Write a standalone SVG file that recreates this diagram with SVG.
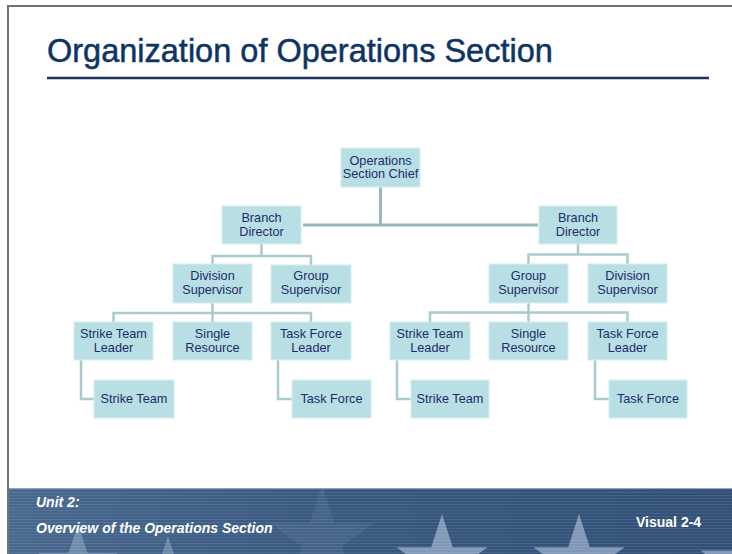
<svg xmlns="http://www.w3.org/2000/svg" xmlns:xlink="http://www.w3.org/1999/xlink" width="732" height="554" viewBox="0 0 732 554">
<style>
.box{fill:#b8dfe3;stroke:#d4eef0;stroke-width:1}
.lbl{font-family:"Liberation Sans",Arial,sans-serif;font-size:12.7px;fill:#1e2a6e;text-anchor:middle}
.main{fill:none;stroke:#97b8bc;stroke-width:3}
.br{fill:none;stroke:#a9cbce;stroke-width:2.5}
.ft{font-family:"Liberation Sans",Arial,sans-serif;font-size:14px;font-weight:bold;fill:#ffffff}
</style>
<defs>
<linearGradient id="fg" x1="0" y1="0" x2="1" y2="0">
<stop offset="0" stop-color="#48688f"/>
<stop offset="0.45" stop-color="#38587f"/>
<stop offset="1" stop-color="#314f77"/>
</linearGradient>
<pattern id="stripes" width="4" height="3" patternUnits="userSpaceOnUse">
<rect width="4" height="1" fill="#ffffff" fill-opacity="0.09"/>
</pattern>
<polygon id="star" points="0,-1 0.2245,-0.309 0.9511,-0.309 0.3633,0.118 0.5878,0.809 0,0.382 -0.5878,0.809 -0.3633,0.118 -0.9511,-0.309 -0.2245,-0.309"/>
<clipPath id="fclip"><rect x="9" y="488" width="723" height="66"/></clipPath>
</defs>
<rect width="732" height="554" fill="#ffffff"/>
<g id="frame">
<line x1="8" y1="6" x2="732" y2="6" stroke="#727272" stroke-width="2"/>
<line x1="8" y1="5" x2="8" y2="554" stroke="#727272" stroke-width="2"/>
</g>
<g id="title">
<text x="47" y="62" font-family="'Liberation Sans',Arial,sans-serif" font-size="32.5" fill="#0e3466" stroke="#0e3466" stroke-width="0.5">Organization of Operations Section</text>
<line x1="47" y1="78" x2="709" y2="78" stroke="#1b3563" stroke-width="2.5"/>
</g>
<g id="footer">
<rect x="9" y="488" width="723" height="66" fill="url(#fg)"/>
<g clip-path="url(#fclip)" fill="#b4c6dc">
<use xlink:href="#star" transform="translate(322,540) scale(55)" fill-opacity="0.1"/>
<use xlink:href="#star" transform="translate(78,566) scale(42)" fill-opacity="0.4"/>
<use xlink:href="#star" transform="translate(168,580) scale(44)" fill-opacity="0.4"/>
<use xlink:href="#star" transform="translate(442,562) scale(48)" fill-opacity="0.6"/>
<use xlink:href="#star" transform="translate(579,562) scale(48)" fill-opacity="0.6"/>
<use xlink:href="#star" transform="translate(748,566) scale(50)" fill-opacity="0.6"/>
</g>
<rect x="9" y="488" width="723" height="66" fill="url(#stripes)"/>
<line x1="9" y1="488.5" x2="732" y2="488.5" stroke="#8ea3bd" stroke-width="1"/>
<text class="ft" x="36" y="507" font-style="italic">Unit 2:</text>
<text class="ft" x="36" y="533" font-style="italic">Overview of the Operations Section</text>
<text class="ft" x="636" y="527">Visual 2-4</text>
</g>
<g id="connectors">
<path class="main" d="M380.5 187V225M303 225H538"/>
<path class="br" d="M261.5 244V256M212.5 264V256H311V265"/>
<path class="br" d="M578 244V254.5M528.5 264V254.5H627.5V264"/>
<path class="br" d="M212.5 303V322M113.5 322V313H311V322"/>
<path class="br" d="M528.5 303V322M430 322V312.5H627.5V322"/>
<path class="br" d="M81 360V399H94"/>
<path class="br" d="M278 360V399H292"/>
<path class="br" d="M397 360V399H411"/>
<path class="br" d="M595 360V399H609"/>
</g>
<g id="chief"><rect class="box" x="341" y="148" width="79" height="39"/><text class="lbl" x="380.5" y="165">Operations</text><text class="lbl" x="380.5" y="178">Section Chief</text></g>
<g id="branchL"><rect class="box" x="222" y="206" width="79" height="38"/><text class="lbl" x="261.5" y="222">Branch</text><text class="lbl" x="261.5" y="236">Director</text></g>
<g id="divL"><rect class="box" x="173" y="264" width="79" height="39"/><text class="lbl" x="212.5" y="280">Division</text><text class="lbl" x="212.5" y="294">Supervisor</text></g>
<g id="grpL"><rect class="box" x="271" y="265" width="80" height="38"/><text class="lbl" x="311" y="280">Group</text><text class="lbl" x="311" y="294">Supervisor</text></g>
<g id="stlL"><rect class="box" x="74" y="322" width="79" height="38"/><text class="lbl" x="113.5" y="338">Strike Team</text><text class="lbl" x="113.5" y="352">Leader</text></g>
<g id="srL"><rect class="box" x="173" y="322" width="79" height="38"/><text class="lbl" x="212.5" y="338">Single</text><text class="lbl" x="212.5" y="352">Resource</text></g>
<g id="tflL"><rect class="box" x="271" y="322" width="80" height="38"/><text class="lbl" x="311" y="338">Task Force</text><text class="lbl" x="311" y="352">Leader</text></g>
<g id="stL"><rect class="box" x="94" y="380" width="80" height="38"/><text class="lbl" x="134" y="403">Strike Team</text></g>
<g id="tfL"><rect class="box" x="292" y="380" width="79" height="38"/><text class="lbl" x="331.5" y="403">Task Force</text></g>
<g id="branchR"><rect class="box" x="539" y="206" width="78" height="38"/><text class="lbl" x="578" y="222">Branch</text><text class="lbl" x="578" y="236">Director</text></g>
<g id="grpR"><rect class="box" x="489" y="264" width="79" height="39"/><text class="lbl" x="528.5" y="280">Group</text><text class="lbl" x="528.5" y="294">Supervisor</text></g>
<g id="divR"><rect class="box" x="588" y="264" width="79" height="39"/><text class="lbl" x="627.5" y="280">Division</text><text class="lbl" x="627.5" y="294">Supervisor</text></g>
<g id="stlR"><rect class="box" x="390" y="322" width="80" height="38"/><text class="lbl" x="430" y="338">Strike Team</text><text class="lbl" x="430" y="352">Leader</text></g>
<g id="srR"><rect class="box" x="489" y="322" width="79" height="38"/><text class="lbl" x="528.5" y="338">Single</text><text class="lbl" x="528.5" y="352">Resource</text></g>
<g id="tflR"><rect class="box" x="588" y="322" width="79" height="38"/><text class="lbl" x="627.5" y="338">Task Force</text><text class="lbl" x="627.5" y="352">Leader</text></g>
<g id="stR"><rect class="box" x="411" y="380" width="78" height="38"/><text class="lbl" x="450" y="403">Strike Team</text></g>
<g id="tfR"><rect class="box" x="609" y="380" width="78" height="38"/><text class="lbl" x="648" y="403">Task Force</text></g>
</svg>
